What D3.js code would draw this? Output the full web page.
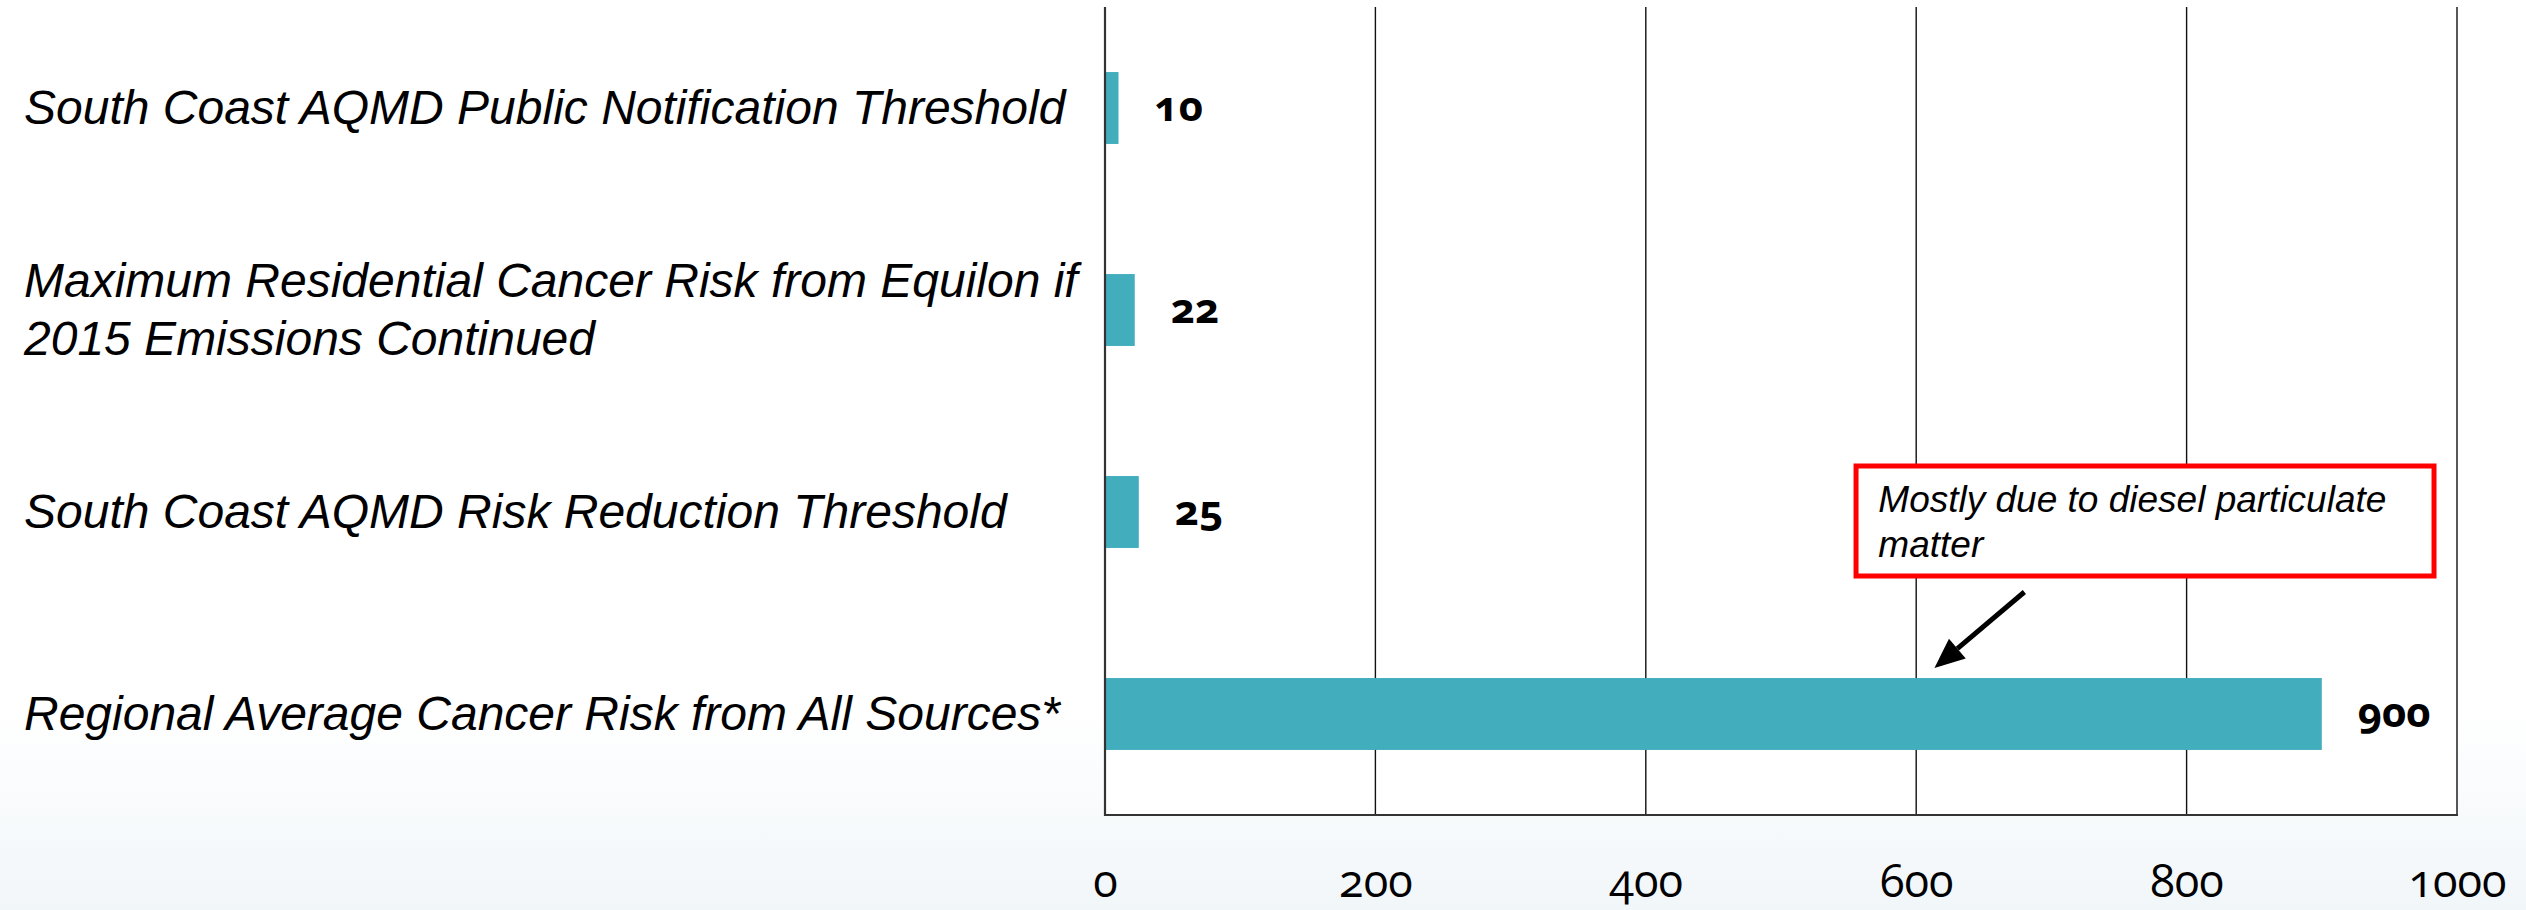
<!DOCTYPE html>
<html>
<head>
<meta charset="utf-8">
<script src="https://cdn.jsdelivr.net/npm/d3@7/dist/d3.min.js"></script>
<style>
  html, body { margin: 0; padding: 0; background: #ffffff; }
  svg { display: block; }
</style>
</head>
<body>
<svg id="chart" width="2526" height="910"></svg>
<script>
// ---- data ----
const categories = [
  ["South Coast AQMD Public Notification Threshold"],
  ["Maximum Residential Cancer Risk from Equilon if", "2015 Emissions Continued"],
  ["South Coast AQMD Risk Reduction Threshold"],
  ["Regional Average Cancer Risk from All Sources*"]
];
const values = [10, 22, 25, 900];
const tickValues = [0, 200, 400, 600, 800, 1000];
const annotationLines = ["Mostly due to diesel particulate", "matter"];

// ---- layout ----
const W = 2526, H = 910;
const plot = { left: 1105, right: 2457, top: 7, bottom: 815 };
const svg = d3.select("#chart");

// background gradient
const defs = svg.append("defs");
const grad = defs.append("linearGradient").attr("id", "bg").attr("x1", 0).attr("y1", 0).attr("x2", 0).attr("y2", 1);
grad.append("stop").attr("offset", "0.78").attr("stop-color", "#ffffff");
grad.append("stop").attr("offset", "1").attr("stop-color", "#f1f6f9");
svg.append("rect").attr("x", 0).attr("y", 0).attr("width", W).attr("height", H).attr("fill", "url(#bg)");

const x = d3.scaleLinear().domain([0, 1000]).range([plot.left, plot.right]);
const y = d3.scaleBand()
  .domain(d3.range(categories.length))
  .range([plot.top, plot.bottom])
  .paddingInner(0.644)
  .paddingOuter(0.322);

// plot area (white)
svg.append("rect")
  .attr("x", plot.left).attr("y", plot.top)
  .attr("width", plot.right - plot.left).attr("height", plot.bottom - plot.top)
  .attr("fill", "#ffffff");

// gridlines
svg.append("g").selectAll("line")
  .data(tickValues.filter(d => d > 0))
  .join("line")
  .attr("x1", d => x(d)).attr("x2", d => x(d))
  .attr("y1", plot.top).attr("y2", plot.bottom)
  .attr("stroke", "#111").attr("stroke-width", 1.4);

// bars
svg.append("g").selectAll("rect")
  .data(values)
  .join("rect")
  .attr("x", x(0))
  .attr("y", (d, i) => y(i))
  .attr("width", d => x(d) - x(0))
  .attr("height", y.bandwidth())
  .attr("fill", "#42adbd");

// axes lines
svg.append("line")
  .attr("x1", plot.left).attr("x2", plot.left)
  .attr("y1", plot.top).attr("y2", plot.bottom + 1)
  .attr("stroke", "#333").attr("stroke-width", 2.2);
svg.append("line")
  .attr("x1", plot.left).attr("x2", plot.right + 1)
  .attr("y1", plot.bottom).attr("y2", plot.bottom)
  .attr("stroke", "#333").attr("stroke-width", 2.2);

// x tick labels via axis
const xAxis = d3.axisBottom(x).tickValues(tickValues).tickSize(0).tickPadding(0).tickFormat(d3.format("d"));
const gx = svg.append("g").attr("transform", `translate(0, ${plot.bottom})`).call(xAxis);
gx.select(".domain").remove();
gx.selectAll("text")
  .attr("dy", null)
  .attr("y", 82)
  .attr("fill", "#000")
  .style("font-family", "'Open Sans', 'Noto Sans', sans-serif")
  .style("font-size", "45px")
  .style("font-variant-numeric", "oldstyle-nums")
  .style("font-feature-settings", "'onum' 1");

// value labels
svg.append("g").selectAll("text")
  .data(values)
  .join("text")
  .attr("x", d => x(d) + 36)
  .attr("y", (d, i) => y(i) + y.bandwidth() / 2 + 13)
  .attr("fill", "#000")
  .style("font-family", "'Open Sans', 'Noto Sans', sans-serif")
  .style("font-weight", "700")
  .style("font-size", "42px")
  .style("font-variant-numeric", "oldstyle-nums")
  .style("font-feature-settings", "'onum' 1")
  .text(d => d);

// category labels
const lineH = 58;
svg.append("g").selectAll("text")
  .data(categories)
  .join("text")
  .attr("x", 24)
  .attr("y", (d, i) => y(i) + y.bandwidth() / 2 + 16 - (d.length - 1) * lineH / 2)
  .attr("fill", "#000")
  .style("font-family", "'Liberation Sans', Arial, sans-serif")
  .style("font-style", "italic")
  .style("font-size", "48px")
  .each(function(d) {
    const t = d3.select(this);
    d.forEach((line, j) => {
      t.append("tspan").attr("x", 24).attr("dy", j === 0 ? 0 : lineH).text(line);
    });
  });

// annotation box
const boxX0 = x(555.5), boxX1 = x(983);
svg.append("rect")
  .attr("x", boxX0).attr("y", 466)
  .attr("width", boxX1 - boxX0).attr("height", 110)
  .attr("fill", "#ffffff")
  .attr("stroke", "#ff0000").attr("stroke-width", 5);
svg.append("text")
  .attr("x", x(572)).attr("y", 512)
  .attr("fill", "#000")
  .style("font-family", "'Liberation Sans', Arial, sans-serif")
  .style("font-style", "italic")
  .style("font-size", "37px")
  .selectAll("tspan").data(annotationLines).join("tspan")
  .attr("x", x(572)).attr("dy", (d, i) => i === 0 ? 0 : 45)
  .text(d => d);

// arrow
const ax0 = x(680), ay0 = 592, ax1 = x(613.5), ay1 = 668;
const ang = Math.atan2(ay1 - ay0, ax1 - ax0);
const headLen = 30, headW = 13;
const bx = ax1 - headLen * Math.cos(ang), by = ay1 - headLen * Math.sin(ang);
svg.append("line")
  .attr("x1", ax0).attr("y1", ay0).attr("x2", bx).attr("y2", by)
  .attr("stroke", "#000").attr("stroke-width", 5);
svg.append("path")
  .attr("d", `M${ax1},${ay1} L${bx + headW * Math.sin(ang)},${by - headW * Math.cos(ang)} L${bx - headW * Math.sin(ang)},${by + headW * Math.cos(ang)} Z`)
  .attr("fill", "#000");
</script>
</body>
</html>
